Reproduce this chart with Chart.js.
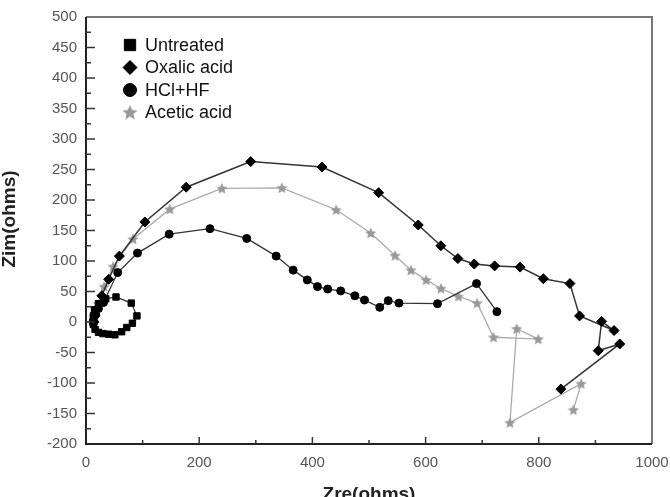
<!DOCTYPE html>
<html>
<head>
<meta charset="utf-8">
<script src="https://cdn.jsdelivr.net/npm/chart.js@4.4.0/dist/chart.umd.min.js"></script>
<style>
  html, body { margin: 0; padding: 0; background: #fff; overflow: hidden; }
</style>
</head>
<body>
<canvas id="myChart" width="670" height="497"></canvas>
<script>
// Nyquist data (Zre, Zim in ohms)
var untreatedRe = [12, 13, 15, 22, 35, 53, 80, 90, 82, 72, 63, 51, 40, 30, 22, 16, 13];
var untreatedIm = [0, 10, 20, 30, 38, 41, 31, 10, -2, -9, -16, -21, -20, -19, -17, -12, -4];

var oxalicRe = [14, 16, 20, 28, 40, 59, 104, 177, 291, 417, 517, 587, 627, 657, 686, 722, 767, 808, 855, 872, 933, 911, 905, 943, 839];
var oxalicIm = [0, 10, 22, 43, 70, 108, 164, 221, 263, 254, 212, 159, 125, 104, 95, 92, 90, 71, 63, 10, -14, 1, -47, -36, -110];

var hclRe = [14, 17, 22, 31, 56, 91, 147, 219, 284, 336, 366, 391, 409, 427, 450, 475, 492, 519, 534, 553, 621, 690, 726];
var hclIm = [0, 12, 22, 32, 81, 113, 144, 153, 137, 108, 85, 69, 58, 54, 51, 43, 36, 24, 35, 31, 30, 63, 17];

var aceticRe = [13, 15, 18, 22, 32, 48, 83, 148, 240, 346, 442, 503, 546, 574, 601, 627, 658, 691, 720, 799, 761, 749, 875, 861];
var aceticIm = [0, 8, 18, 30, 58, 91, 136, 185, 219, 220, 184, 146, 109, 85, 69, 55, 42, 31, -25, -28, -11, -165, -101, -144];

// axis ticks
var xTicks = [0, 200, 400, 600, 800, 1000];
var yTicks = [-200, -150, -100, -50, 0, 50, 100, 150, 200, 250, 300, 350, 400, 450, 500];

function pts(re, im) {
  return re.map(function (x, i) { return { x: x, y: im[i] }; });
}

// five-point star used as a point image
function makeStar(size, color) {
  var c = document.createElement('canvas');
  c.width = size;
  c.height = size;
  var g = c.getContext('2d');
  var r = size / 2, ri = r * 0.45;
  g.fillStyle = color;
  g.beginPath();
  for (var k = 0; k < 10; k++) {
    var rad = k % 2 === 0 ? r : ri;
    var ang = -Math.PI / 2 + k * Math.PI / 5;
    g.lineTo(r + rad * Math.cos(ang), r + 0.5 + rad * Math.sin(ang));
  }
  g.closePath();
  g.fill();
  return c;
}
var starSmall = makeStar(12, '#999');
var starBig = makeStar(16, '#999');

var font = "'Liberation Sans', Arial, sans-serif";

// inward ticks, frame, titles and an inside legend
var decorations = {
  id: 'decorations',
  afterDraw: function (chart) {
    var ctx = chart.ctx;
    var a = chart.chartArea;
    var xs = chart.scales.x;
    var ys = chart.scales.y;
    ctx.save();

    // frame
    ctx.lineWidth = 2;
    ctx.strokeStyle = '#777';
    ctx.beginPath();
    ctx.moveTo(a.left, a.top);
    ctx.lineTo(a.right, a.top);
    ctx.lineTo(a.right, a.bottom);
    ctx.stroke();
    ctx.strokeStyle = '#222';
    ctx.beginPath();
    ctx.moveTo(a.left, a.top);
    ctx.lineTo(a.left, a.bottom);
    ctx.lineTo(a.right, a.bottom);
    ctx.stroke();

    // ticks pointing into the plot
    ctx.lineWidth = 1.5;
    ctx.strokeStyle = '#333';
    for (var v = 100; v < 1000; v += 100) {
      var px = xs.getPixelForValue(v);
      var len = v % 200 === 0 ? 7 : 4;
      ctx.beginPath();
      ctx.moveTo(px, a.bottom);
      ctx.lineTo(px, a.bottom - len);
      ctx.stroke();
    }
    for (var w = -175; w < 500; w += 25) {
      var py = ys.getPixelForValue(w);
      var l = w % 50 === 0 ? 9 : 5;
      ctx.beginPath();
      ctx.moveTo(a.left, py);
      ctx.lineTo(a.left + l, py);
      ctx.stroke();
    }

    // axis titles
    ctx.fillStyle = '#222';
    ctx.font = 'bold 19px ' + font;
    ctx.textAlign = 'center';
    ctx.textBaseline = 'middle';
    ctx.fillText('Zre(ohms)', (a.left + a.right) / 2, 495);
    ctx.save();
    ctx.translate(10, 219);
    ctx.rotate(-Math.PI / 2);
    ctx.fillText('Zim(ohms)', 0, 0);
    ctx.restore();

    // legend
    var rows = chart.data.datasets;
    var legendSize = [8, 7, 6.5, 7];
    ctx.font = '18px ' + font;
    ctx.textAlign = 'left';
    for (var i = 0; i < rows.length; i++) {
      var ds = rows[i];
      var y = 45 + i * 22.5;
      ctx.fillStyle = ds.pointBackgroundColor;
      ctx.strokeStyle = ds.pointBorderColor;
      ctx.lineWidth = 1;
      Chart.helpers.drawPoint(ctx, {
        pointStyle: ds.legendStyle || ds.pointStyle,
        radius: legendSize[i],
        borderWidth: 1,
        rotation: 0
      }, 130, y);
      ctx.fillStyle = '#111';
      ctx.fillText(ds.label, 145, y + 1);
    }
    ctx.restore();
  }
};

var ctx = document.getElementById('myChart');
var myChart = new Chart(ctx, {
  type: 'scatter',
  data: {
    datasets: [
      {
        label: 'Untreated',
        data: pts(untreatedRe, untreatedIm),
        showLine: true,
        borderColor: '#333',
        borderWidth: 1.2,
        pointStyle: 'rect',
        pointRadius: 4.5,
        pointBackgroundColor: '#000',
        pointBorderColor: '#000',
        pointBorderWidth: 1
      },
      {
        label: 'Oxalic acid',
        data: pts(oxalicRe, oxalicIm),
        showLine: true,
        borderColor: '#333',
        borderWidth: 1.5,
        pointStyle: 'rectRot',
        pointRadius: 5,
        pointBackgroundColor: '#000',
        pointBorderColor: '#000',
        pointBorderWidth: 1
      },
      {
        label: 'HCl+HF',
        data: pts(hclRe, hclIm),
        showLine: true,
        borderColor: '#333',
        borderWidth: 1.3,
        pointStyle: 'circle',
        pointRadius: 4,
        pointBackgroundColor: '#000',
        pointBorderColor: '#000',
        pointBorderWidth: 1
      },
      {
        label: 'Acetic acid',
        data: pts(aceticRe, aceticIm),
        showLine: true,
        borderColor: '#aaa',
        borderWidth: 1.3,
        pointStyle: starSmall,
        legendStyle: starBig,
        pointRadius: 5,
        pointBackgroundColor: '#999',
        pointBorderColor: '#999',
        pointBorderWidth: 1
      }
    ]
  },
  options: {
    responsive: false,
    animation: false,
    layout: { padding: { top: 17, right: 18, left: 0, bottom: 0 } },
    plugins: { legend: { display: false }, tooltip: { enabled: false } },
    scales: {
      x: {
        type: 'linear',
        min: 0,
        max: 1000,
        afterFit: function (s) { s.height = 53; s.paddingLeft = 0; s.paddingRight = 0; },
        afterBuildTicks: function (s) { s.ticks = xTicks.map(function (v) { return { value: v }; }); },
        grid: { display: false, drawTicks: false },
        border: { display: false },
        ticks: {
          padding: 10, color: '#555', font: { family: font, size: 15 }, maxRotation: 0,
          callback: function (v) { return String(v); }
        }
      },
      y: {
        type: 'linear',
        min: -200,
        max: 500,
        afterFit: function (s) { s.width = 86; s.paddingTop = 0; s.paddingBottom = 0; },
        afterBuildTicks: function (s) { s.ticks = yTicks.map(function (v) { return { value: v }; }); },
        grid: { display: false, drawTicks: false },
        border: { display: false },
        ticks: { padding: 9, color: '#555', font: { family: font, size: 15 } }
      }
    }
  },
  plugins: [decorations]
});
</script>
</body>
</html>
